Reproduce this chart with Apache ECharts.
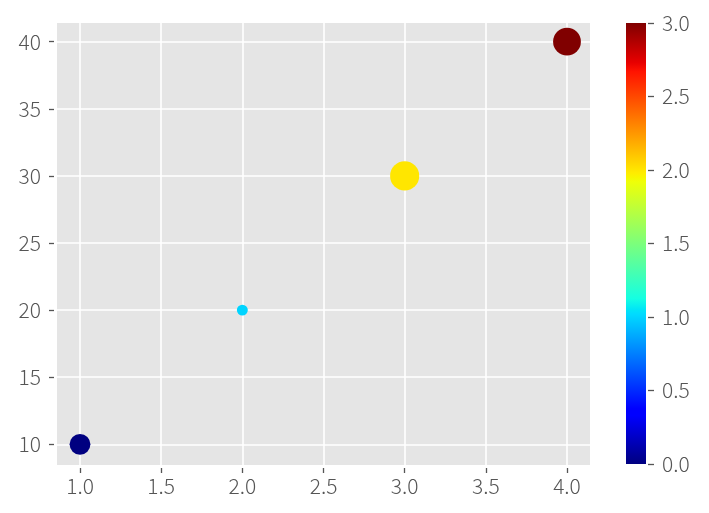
<!DOCTYPE html>
<html><head><meta charset="utf-8">
<script src="https://cdn.jsdelivr.net/npm/echarts@6/dist/echarts.min.js"></script>
<style>html,body{margin:0;padding:0;background:#fff}#c{width:709px;height:513px}</style>
</head><body><div id="c"></div>
<script>
// ---- data ----
const xValues = [1, 2, 3, 4];
const yValues = [10, 20, 30, 40];
const colorValues = [0, 1, 2, 3];
const sizeValues = [225, 62, 440, 400];
const xTicks = [1.0, 1.5, 2.0, 2.5, 3.0, 3.5, 4.0];
const yTicks = [10, 15, 20, 25, 30, 35, 40];
const cbTicks = [0, 0.5, 1.0, 1.5, 2.0, 2.5, 3.0];
const cMin = 0, cMax = 3;

// ---- jet colormap (matplotlib segment data) ----
const JET = {
  r: [[0,0],[0.35,0],[0.66,1],[0.89,1],[1,0.5]],
  g: [[0,0],[0.125,0],[0.375,1],[0.64,1],[0.91,0],[1,0]],
  b: [[0,0.5],[0.11,1],[0.34,1],[0.65,0],[1,0]]
};
function seg(p, t) {
  for (let i = 1; i < p.length; i++) {
    if (t <= p[i][0]) { const a = p[i-1], b = p[i]; return a[1] + (b[1]-a[1]) * (t-a[0]) / (b[0]-a[0]); }
  }
  return p[p.length-1][1];
}
function jet(t) {
  return 'rgb(' + [JET.r, JET.g, JET.b].map(p => Math.round(255 * seg(p, t))).join(',') + ')';
}
const jetBreaks = [0, 0.11, 0.125, 0.34, 0.35, 0.375, 0.64, 0.65, 0.66, 0.89, 0.91, 1];

const FONT = '"Noto Sans CJK JP", "Noto Sans", sans-serif';
const TXT = '#555555';
const FS = 21;
const FW = 300;

const scatterData = xValues.map((x, i) => [x, yValues[i], colorValues[i], sizeValues[i]]);

const chart = echarts.init(document.getElementById('c'), null, {renderer: 'canvas'});
chart.setOption({
  animation: false,
  backgroundColor: '#ffffff',
  grid: [
    {left: 57, top: 23, width: 533, height: 442, show: true, backgroundColor: '#E5E5E5', borderWidth: 0},
    {left: 626, top: 23, width: 20, height: 441, show: false}
  ],
  xAxis: [
    {
      type: 'value', gridIndex: 0, min: 0.8583, max: 4.1417, offset: 3,
      axisLine: {show: false},
      axisTick: {show: true, length: 5, customValues: xTicks, lineStyle: {color: TXT, width: 1.3}},
      axisLabel: {customValues: xTicks, formatter: v => v.toFixed(1), color: TXT, fontSize: FS, fontWeight: FW, fontFamily: FONT, margin: 8},
      splitLine: {show: true, lineStyle: {color: '#ffffff', width: 1.6}}
    },
    {type: 'category', gridIndex: 1, data: [''], show: false}
  ],
  yAxis: [
    {
      type: 'value', gridIndex: 0, min: 8.458, max: 41.393, offset: 3,
      axisLine: {show: false},
      axisTick: {show: true, length: 5, customValues: yTicks, lineStyle: {color: TXT, width: 1.3}},
      axisLabel: {customValues: yTicks, formatter: v => String(Math.round(v)), color: TXT, fontSize: FS, fontWeight: FW, fontFamily: FONT, margin: 13},
      splitLine: {show: true, lineStyle: {color: '#ffffff', width: 1.6}}
    },
    {
      type: 'value', gridIndex: 1, min: cMin, max: cMax, interval: 0.5, position: 'right', offset: 2,
      axisLine: {show: false},
      axisTick: {show: true, length: 6, lineStyle: {color: TXT, width: 1.3}},
      axisLabel: {formatter: v => v.toFixed(1), color: TXT, fontSize: FS, fontWeight: FW, fontFamily: FONT, margin: 14},
      splitLine: {show: false}
    }
  ],
  series: [
    {
      type: 'scatter', xAxisIndex: 0, yAxisIndex: 0,
      data: scatterData,
      symbolSize: v => Math.sqrt(v[3]) * 100 / 72,
      itemStyle: {color: p => jet((p.data[2] - cMin) / (cMax - cMin)), opacity: 1},
      silent: true
    },
    {
      type: 'bar', xAxisIndex: 1, yAxisIndex: 1, data: [cMax], barWidth: '100%', silent: true,
      itemStyle: {
        color: new echarts.graphic.LinearGradient(0, 0, 0, 1,
          jetBreaks.map(t => ({offset: 1 - t, color: jet(t)})).reverse())
      }
    }
  ]
});
</script></body></html>
